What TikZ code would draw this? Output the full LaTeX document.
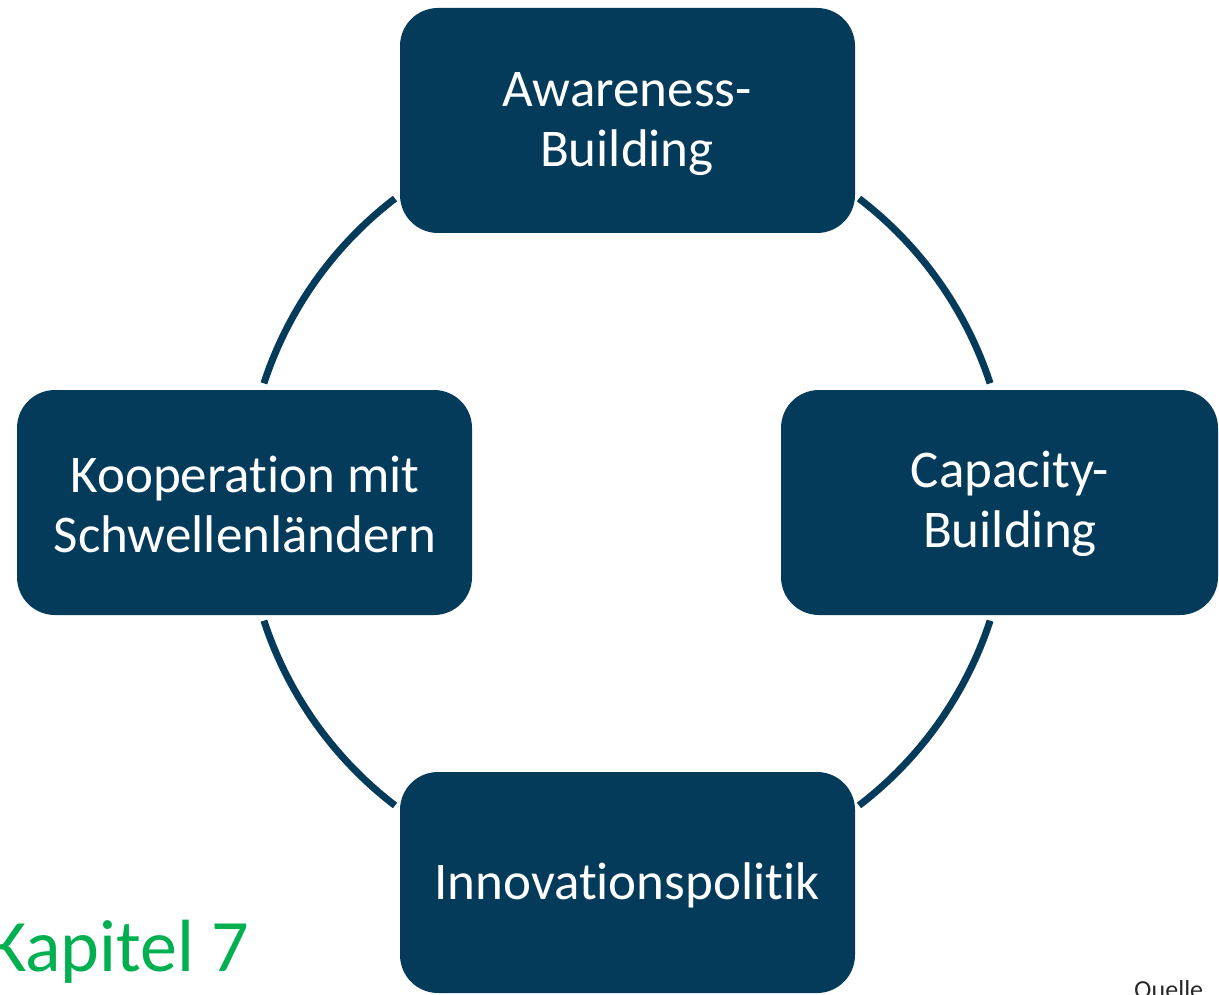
\documentclass[tikz,border=0pt]{standalone}
\usepackage{fontspec}
\setmainfont{Carlito}[Ligatures=NoCommon]
\definecolor{boxblue}{RGB}{4,59,90}
\definecolor{kapgreen}{RGB}{0,176,80}
\definecolor{quellegray}{RGB}{40,40,40}
\begin{document}
\begin{tikzpicture}[x=1pt,y=1pt,
  card/.style={fill=boxblue,rounded corners=38pt,inner sep=0pt},
  cardtext/.style={text=white,font=\fontsize{53}{60}\selectfont,align=center},
  ring/.style={draw=boxblue,line width=7pt}]
\useasboundingbox (0,0) rectangle (1219,-995);
% boxes
\path[card] (400,-8) rectangle (855,-233);
\path[card] (17,-390) rectangle (472,-615);
\path[card] (781,-390) rectangle (1218,-615);
\path[card] (400,-772) rectangle (855,-993);
% texts
\node[cardtext] (aw) at (627,-124) {Awareness-\\Building};
\node[cardtext] (ko) at (245,-504) {Kooperation mit\\Schwellenländern};
\node[cardtext] (ca) at (1010,-504) {Capacity-\\Building};
\node[cardtext] (in) at (627,-885) {Innovationspolitik};
% ring arcs
\coordinate (c) at (627,-502);
\draw[ring] ([shift={(127.4:382)}]c) arc[start angle=127.4,end angle=161.9,radius=382];
\draw[ring] ([shift={(52.6:382)}]c) arc[start angle=52.6,end angle=18.1,radius=382];
\draw[ring] ([shift={(-18.1:382)}]c) arc[start angle=-18.1,end angle=-52.6,radius=382];
\draw[ring] ([shift={(-127.4:382)}]c) arc[start angle=-127.4,end angle=-161.9,radius=382];
% labels
\node[anchor=base west,text=kapgreen,font=\fontsize{74}{88}\selectfont,inner sep=0pt] (kap) at (-12,-971) {Kapitel 7};
\node[anchor=base west,text=quellegray,font=\fontsize{26}{30}\selectfont,inner sep=0pt] (qu) at (1134,-998) {Quelle};
\end{tikzpicture}
\end{document}
